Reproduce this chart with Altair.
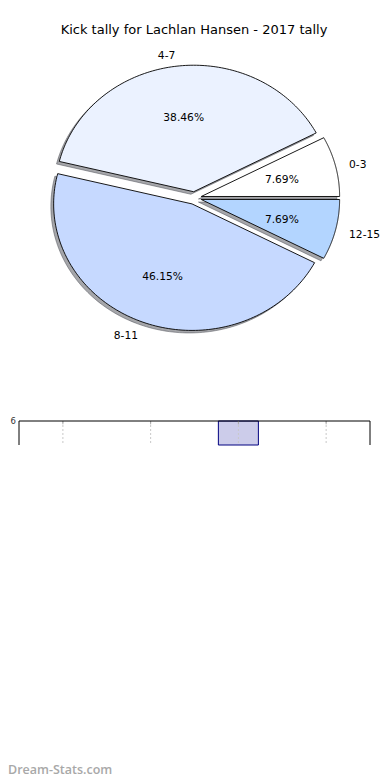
import altair as alt
import pandas as pd

# ---- data ----
title_text = "Kick tally for Lachlan Hansen - 2017 tally"
labels = ["0-3", "4-7", "8-11", "12-15"]
kicks = [1, 5, 6, 1]
colors = ["#ffffff", "#ebf2ff", "#c6d9ff", "#b3d5ff"]
bar_axis_top = 6
watermark = "Dream-Stats.com"

df = pd.DataFrame({"label": labels, "value": kicks})

N = 120        # points per wedge arc
EXP = 0.05     # explode distance (radius units)
SH = 0.02      # shadow offset
FONT = "DejaVu Sans"

# pie drawing area (ellipse: matplotlib axes not equal)
xs = alt.Scale(domain=[-1, 1], range=[48.1, 324.9], nice=False, zero=False)
ys = alt.Scale(domain=[-1, 1], range=[316.5, 63.5], nice=False, zero=False)

base = (
    alt.Chart(df)
    .transform_window(idx="row_number()")
    .transform_joinaggregate(total="sum(value)")
    .transform_window(cum="sum(value)", sort=[alt.SortField("idx")], frame=[None, 0])
    .transform_calculate(start="(datum.cum - datum.value) / datum.total * 2 * PI")
    .transform_calculate(end="datum.cum / datum.total * 2 * PI")
    .transform_calculate(mid="(datum.start + datum.end) / 2")
    .transform_calculate(ox=f"{EXP} * cos(datum.mid)")
    .transform_calculate(oy=f"{EXP} * sin(datum.mid)")
    .transform_calculate(pct="format(datum.value / datum.total * 100, '.2f') + '%'")
)

poly = (
    base.transform_calculate(pts=f"sequence(0, {N + 2})")
    .transform_flatten(["pts"], as_=["t"])
    .transform_calculate(ang=f"datum.start + (datum.t - 1) / {N} * (datum.end - datum.start)")
    .transform_calculate(px="datum.t == 0 ? datum.ox : datum.ox + cos(datum.ang)")
    .transform_calculate(py="datum.t == 0 ? datum.oy : datum.oy + sin(datum.ang)")
)

shadow = (
    poly.transform_calculate(sx=f"datum.px - {SH}", sy=f"datum.py - {SH}")
    .mark_line(interpolate="linear-closed", fill="#4b4e55", fillOpacity=0.5,
               stroke="#4b4e55", strokeOpacity=0.5, strokeWidth=1)
    .encode(
        x=alt.X("sx:Q", scale=xs, axis=None),
        y=alt.Y("sy:Q", scale=ys, axis=None),
        detail="label:N",
        order="t:Q",
    )
)

wedges = poly.mark_line(
    interpolate="linear-closed", stroke="black", strokeWidth=0.9, strokeJoin="miter"
).encode(
    x=alt.X("px:Q", scale=xs, axis=None),
    y=alt.Y("py:Q", scale=ys, axis=None),
    fill=alt.Fill("label:N", scale=alt.Scale(domain=labels, range=colors), legend=None),
    detail="label:N",
    order="t:Q",
)

pct_text = (
    base.transform_calculate(tx="datum.ox + 0.6 * cos(datum.mid)", ty="datum.oy + 0.6 * sin(datum.mid)")
    .mark_text(font=FONT, fontSize=10.7, color="black", baseline="middle", align="center", dy=2)
    .encode(x=alt.X("tx:Q", scale=xs, axis=None), y=alt.Y("ty:Q", scale=ys, axis=None), text="pct:N")
)

lab = base.transform_calculate(
    lx="datum.ox + 1.1 * cos(datum.mid)", ly="datum.oy + 1.1 * sin(datum.mid)"
)
lab_right = (
    lab.transform_filter("cos(datum.mid) > 0")
    .mark_text(font=FONT, fontSize=10.7, color="black", baseline="middle", align="left", dy=2)
    .encode(x=alt.X("lx:Q", scale=xs, axis=None), y=alt.Y("ly:Q", scale=ys, axis=None), text="label:N")
)
lab_left = (
    lab.transform_filter("cos(datum.mid) <= 0")
    .mark_text(font=FONT, fontSize=10.7, color="black", baseline="middle", align="right", dy=2)
    .encode(x=alt.X("lx:Q", scale=xs, axis=None), y=alt.Y("ly:Q", scale=ys, axis=None), text="label:N")
)

title = alt.Chart(pd.DataFrame({"t": [title_text]})).mark_text(
    font=FONT, fontSize=13, color="black", align="center", baseline="alphabetic"
).encode(x=alt.value(186), y=alt.value(26), text="t:N")

# ---- cut-off bar chart strip below the pie ----
YMIN = 5.5
n = len(labels)
stx = alt.Scale(domain=[0, n], range=[11, 362], nice=False, zero=False)
sty = alt.Scale(domain=[YMIN, bar_axis_top], range=[437, 413], nice=False, zero=False, clamp=True)

sbase = alt.Chart(df).transform_window(idx="row_number()").transform_calculate(c="datum.idx - 0.5")

bars = (
    sbase.transform_filter(f"datum.value > {YMIN}")
    .transform_calculate(b0="datum.c - 0.228", b1="datum.c + 0.228", lo=f"{YMIN}")
    .mark_rect(fill="#ccccea", stroke="#000080", strokeWidth=1)
    .encode(
        x=alt.X("b0:Q", scale=stx, axis=None), x2="b1:Q",
        y=alt.Y("value:Q", scale=sty, axis=None), y2="lo:Q",
    )
)

sframe = pd.DataFrame({"x0": [0], "x1": [n], "ytop": [bar_axis_top], "ybot": [YMIN]})

grid = (
    sbase.transform_calculate(ytop=f"{bar_axis_top}", ybot=f"{YMIN}")
    .mark_rule(color="#c8c8c8", strokeWidth=1, strokeDash=[2, 2])
    .encode(
        x=alt.X("c:Q", scale=stx, axis=None),
        y=alt.Y("ytop:Q", scale=sty, axis=None),
        y2="ybot:Q",
    )
)
grid_tick = (
    sbase.transform_calculate(ytop=f"{bar_axis_top}", ybot=f"{bar_axis_top} - 0.07")
    .mark_rule(color="#a8a8a8", strokeWidth=1)
    .encode(
        x=alt.X("c:Q", scale=stx, axis=None),
        y=alt.Y("ytop:Q", scale=sty, axis=None),
        y2="ybot:Q",
    )
)

left_side = alt.Chart(sframe).mark_rule(color="black", strokeWidth=1).encode(
    x=alt.X("x0:Q", scale=stx, axis=None),
    y=alt.Y("ytop:Q", scale=sty, axis=None),
    y2="ybot:Q",
)
right_side = alt.Chart(sframe).mark_rule(color="black", strokeWidth=1).encode(
    x=alt.X("x1:Q", scale=stx, axis=None),
    y=alt.Y("ytop:Q", scale=sty, axis=None),
    y2="ybot:Q",
)
top = alt.Chart(sframe).mark_rule(color="black", strokeWidth=1).encode(
    x=alt.X("x0:Q", scale=stx, axis=None),
    x2="x1:Q",
    y=alt.Y("ytop:Q", scale=sty, axis=None),
)
tick_lab = alt.Chart(sframe).mark_text(
    font=FONT, fontSize=8.5, color="#333333", align="right", baseline="middle", dx=-3
).encode(
    x=alt.X("x0:Q", scale=stx, axis=None),
    y=alt.Y("ytop:Q", scale=sty, axis=None),
    text="ytop:N",
)

foot = alt.Chart(pd.DataFrame({"w": [watermark]})).mark_text(
    font="Open Sans", fontSize=12.5, fontWeight=600, color="#a8a8a8", align="left", baseline="middle"
).encode(x=alt.value(0), y=alt.value(762), text="w:N")

chart = (
    alt.layer(shadow, wedges, pct_text, lab_right, lab_left, title,
              bars, grid, grid_tick, left_side, right_side, top, tick_lab, foot)
    .resolve_scale(x="independent", y="independent")
    .properties(width=374, height=772, autosize=alt.AutoSizeParams(type="none"), padding=0)
    .configure_view(stroke=None)
)

chart.save("out.html", embed_options={"renderer": "svg", "actions": False})
